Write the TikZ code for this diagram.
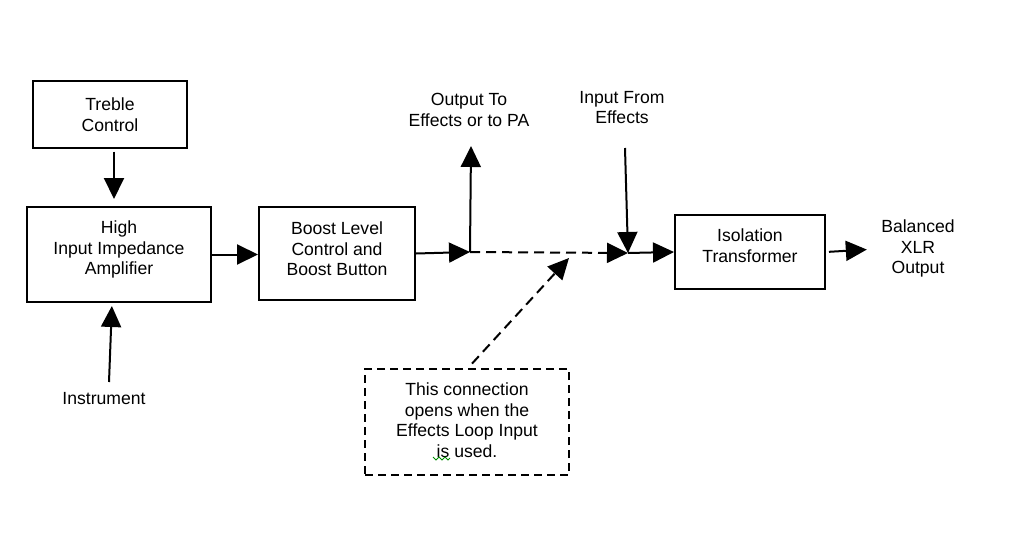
\documentclass[tikz,border=0pt]{standalone}
\usepackage{fontspec}
\setmainfont{Liberation Sans}
\usetikzlibrary{arrows.meta}
\begin{document}
\begin{tikzpicture}[x=1pt,y=-1pt,
  font=\fontsize{17.6}{20.5}\selectfont,
  line width=2pt,
  box/.style={draw, rectangle, inner sep=0pt},
  dbox/.style={box, dash pattern=on 8pt off 5pt},
  txt/.style={align=center, inner sep=0pt},
  arr/.style={-{Triangle[length=21pt,width=20pt]}},
  darr/.style={arr, dash pattern=on 10pt off 6pt},
  squig/.style={line width=1pt, draw=green!55!black},
]
\useasboundingbox[fill=white] (0,0) rectangle (1010,538);

% boxes
\node[box, minimum width=154pt, minimum height=67pt,
  label={[txt]center:Treble\\Control}] (treble) at (110,114.5) {};
\node[box, minimum width=184pt, minimum height=95pt,
  label={[txt,yshift=4.9pt]center:High\\Input Impedance\\Amplifier}] (amp) at (119,254.5) {};
\node[box, minimum width=156pt, minimum height=93pt,
  label={[txt,yshift=4.7pt]center:Boost Level\\Control and\\Boost Button}] (boost) at (337,253.5) {};
\node[box, minimum width=150pt, minimum height=74pt,
  label={[txt,yshift=6.2pt]center:Isolation\\Transformer}] (iso) at (750,252) {};
\node[dbox, minimum width=204pt, minimum height=106pt,
  label={[txt,yshift=1.7pt]center:This connection\\opens when the\\Effects Loop Input\\is used.}] (note) at (467,422) {};

% free labels
\node[txt] (instr) at (104,399) {Instrument};
\node[txt] (outpa) at (469,110) {Output To\\Effects or to PA};
\node[txt] (infx) at (622,107.5) {Input From\\Effects};
\node[txt] (bal) at (918,248.75) {Balanced\\XLR\\Output};

% junctions and free ends
\coordinate (j1) at (470,252);
\coordinate (j2) at (628,253);
\coordinate (patip) at (471,146);
\coordinate (infs) at (625,148);
\coordinate (instrs) at (109,382);
\coordinate (dtip) at (569,258);

% connectors
\draw[arr, shorten <=2.5pt, shorten >=7pt] ([xshift=4pt]treble.south) -- ([xshift=-5pt]amp.north);
\draw[arr, shorten >=3pt] (instrs) -- ([xshift=-7pt]amp.south);
\draw[arr] (amp.east) -- (boost.west |- amp.east);
\draw[arr] (boost.east) -- (j1);
\draw[arr] (j1) -- (patip);
\draw[darr] (j1) -- (j2);
\draw[arr] (infs) -- (j2);
\draw[arr] (j2) -- (iso.west);
\draw[arr, shorten <=3pt, shorten >=13.5pt] (iso.east) -- (bal.west);
\draw[darr, shorten <=6pt] ([xshift=1pt]note.north) -- (dtip);

% spell-check squiggle
\draw[squig] (433,457) -- (436,460) -- (439,457) -- (442,460) -- (445,457) -- (448,460) -- (450,458);
\end{tikzpicture}
\end{document}
